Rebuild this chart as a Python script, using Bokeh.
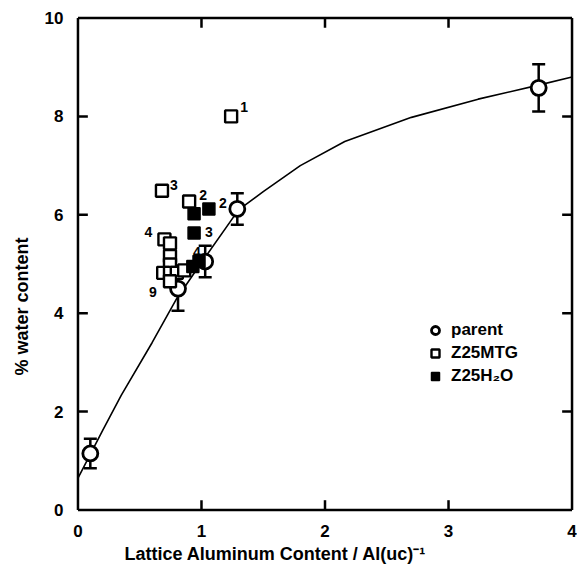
from bokeh.core.properties import value
from bokeh.embed import file_html
from bokeh.models import ColumnDataSource, FixedTicker, Legend, LegendItem, Title
from bokeh.plotting import figure
from bokeh.resources import INLINE

# ---- data -------------------------------------------------------------
# parent zeolite: lattice Al per unit cell vs % water, with error bars
parent_al = [0.10, 0.81, 1.03, 1.29, 3.73]
parent_water = [1.15, 4.50, 5.05, 6.12, 8.58]
parent_err = [0.30, 0.45, 0.32, 0.32, 0.48]

# Z25MTG (open squares) and their annotation numbers
mtg_al = [1.24, 0.68, 0.90, 0.70, 0.745, 0.745, 0.745, 0.69, 0.745, 0.80, 0.86, 0.745]
mtg_water = [8.00, 6.49, 6.27, 5.50, 5.42, 5.16, 4.99, 4.82, 4.82, 4.82, 4.87, 4.65]
mtg_tags = ["1", "3", "2", "4", "", "", "", "", "", "", "", "9"]

# Z25H2O (filled squares) and their annotation numbers
h2o_al = [0.94, 1.06, 0.94, 0.93, 0.98]
h2o_water = [6.02, 6.12, 5.63, 4.95, 5.05]
h2o_tags = ["", "2", "3", "", "4"]

# fitted trend line through the parent series
curve_al = [0.0, 0.2, 0.35, 0.6, 0.8, 1.0, 1.3, 1.5, 1.8, 2.16, 2.7, 3.24, 3.72, 4.0]
curve_water = [0.65, 1.62, 2.33, 3.40, 4.30, 5.03, 6.10, 6.47, 7.00, 7.49, 7.98, 8.35, 8.63, 8.80]

x_ticks = [0, 1, 2, 3, 4]
y_ticks = [0, 2, 4, 6, 8, 10]

# pixel offsets of the numbers next to their squares
mtg_tag_dx = [9, 8, 10, -20, 0, 0, 0, 0, 0, 0, 0, -21]
mtg_tag_dy = [-4, -1, -2, -2, 0, 0, 0, 0, 0, 0, 0, 16]
h2o_tag_dx = [0, 10, 11, 0, -6]
h2o_tag_dy = [0, -1, 4, 0, -5]

FONT = "Liberation Sans"
X0, X1 = x_ticks[0], x_ticks[-1]
Y0, Y1 = y_ticks[0], y_ticks[-1]
PAD_X, PAD_Y = 0.02, 0.05          # small margin so the drawn box sits inside the frame
TICK_X, TICK_Y = 0.08, 0.2         # inward tick length (about 10 px) in data units

# ---- figure -----------------------------------------------------------
p = figure(width=577, height=566, x_range=(X0 - PAD_X, X1 + PAD_X),
           y_range=(Y0 - PAD_Y, Y1 + PAD_Y),
           output_backend="svg", toolbar_location=None,
           min_border_left=68, min_border_right=3,
           min_border_top=15, min_border_bottom=52)
p.xgrid.grid_line_color = None
p.ygrid.grid_line_color = None
p.outline_line_color = None

for ax, ticks in ((p.xaxis[0], x_ticks), (p.yaxis[0], y_ticks)):
    ax.ticker = FixedTicker(ticks=ticks)
    ax.axis_line_color = None
    ax.major_tick_line_color = None
    ax.minor_tick_line_color = None
    ax.major_label_text_font = FONT
    ax.major_label_text_font_style = "bold"
    ax.major_label_text_font_size = "17px"
    ax.major_label_text_color = "black"
    ax.major_label_standoff = 6

# axis titles as side titles, so they can be placed along the frame
title_style = dict(text_font=FONT, text_font_style="bold",
                   text_font_size="18px", text_color="black")
p.add_layout(Title(text="Lattice Aluminum Content / Al(uc)\u207b\u00b9",
                   align="left", offset=49, standoff=5, **title_style), "below")
p.add_layout(Title(text="% water content", align="left", offset=137,
                   standoff=19, **title_style), "left")

# plot box
p.segment([X0, X0, X0, X1], [Y0, Y1, Y0, Y0], [X1, X1, X0, X1], [Y0, Y1, Y1, Y1],
          line_color="black", line_width=2.5)

# inward ticks on all four sides
inner_x = x_ticks[1:-1]
inner_y = y_ticks[1:-1]
p.segment(inner_x * 2, [Y0] * len(inner_x) + [Y1] * len(inner_x),
          inner_x * 2, [Y0 + TICK_Y] * len(inner_x) + [Y1 - TICK_Y] * len(inner_x),
          line_color="black", line_width=2.5)
p.segment([X0] * len(inner_y) + [X1] * len(inner_y), inner_y * 2,
          [X0 + TICK_X] * len(inner_y) + [X1 - TICK_X] * len(inner_y), inner_y * 2,
          line_color="black", line_width=2.5)

# trend line
p.line(curve_al, curve_water, line_color="black", line_width=1.6)

# parent series: error bars drawn as segments with dash caps
upper = [v + e for v, e in zip(parent_water, parent_err)]
lower = [v - e for v, e in zip(parent_water, parent_err)]
p.segment(parent_al, lower, parent_al, upper, line_color="black", line_width=2.5)
p.scatter(parent_al + parent_al, upper + lower, marker="dash", size=13,
          line_color="black", line_width=2.5)
r_parent = p.scatter(parent_al, parent_water, marker="circle", size=15,
                     fill_color="white", line_color="black", line_width=2.8)

# squares
r_mtg = p.scatter(mtg_al, mtg_water, marker="square", size=12,
                  fill_color="white", line_color="black", line_width=2.4)
r_h2o = p.scatter(h2o_al, h2o_water, marker="square", size=12,
                  fill_color="black", line_color="black", line_width=1.5)

# numbers beside the squares (only the tagged points)
tagged = [
    (x, y, t, dx, dy)
    for x, y, t, dx, dy in zip(mtg_al + h2o_al, mtg_water + h2o_water,
                               mtg_tags + h2o_tags, mtg_tag_dx + h2o_tag_dx,
                               mtg_tag_dy + h2o_tag_dy)
    if t
]
tag_src = ColumnDataSource(dict(
    x=[r[0] for r in tagged], y=[r[1] for r in tagged],
    t=[r[2] for r in tagged], dx=[r[3] for r in tagged],
    dy=[r[4] for r in tagged],
))
p.text(x="x", y="y", text="t", x_offset="dx", y_offset="dy", source=tag_src,
       text_font=value(FONT), text_font_style="bold", text_font_size="14px",
       text_baseline="bottom", text_align="left", text_color="black")

legend = Legend(items=[
    LegendItem(label="parent", renderers=[r_parent]),
    LegendItem(label="Z25MTG", renderers=[r_mtg]),
    LegendItem(label="Z25H\u2082O", renderers=[r_h2o]),
], location=(350, 126), border_line_color=None, background_fill_alpha=0,
    padding=0, margin=0, spacing=3, glyph_width=20, glyph_height=20,
    label_height=20, label_standoff=6, label_text_font=FONT,
    label_text_font_style="bold", label_text_font_size="17px",
    label_text_color="black")
p.add_layout(legend, "center")

open("out.html", "w").write(file_html(p, INLINE))
